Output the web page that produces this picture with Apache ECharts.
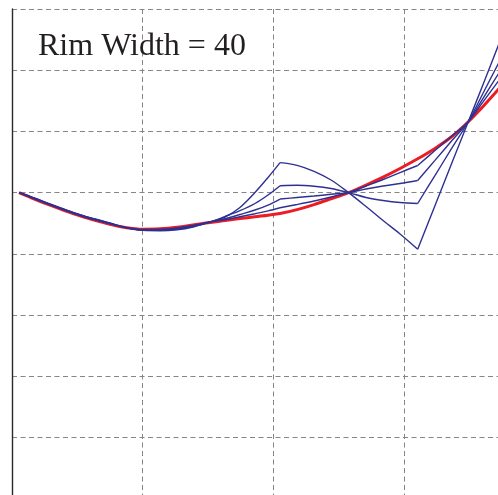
<!DOCTYPE html>
<html>
<head>
<meta charset="utf-8">
<script src="https://cdn.jsdelivr.net/npm/echarts@6/dist/echarts.min.js"></script>
<style>
  html, body { margin: 0; padding: 0; background: #fff; }
  #chart { width: 498px; height: 495px; }
</style>
</head>
<body>
<div id="chart"></div>
<script>
// Sample positions along the profile (shared by every curve)
const xPos = [0.054, 0.176, 0.291, 0.406, 0.520, 0.635, 0.750, 0.865, 1.002, 1.132, 1.262,
  1.385, 1.515, 1.630, 1.744, 1.859, 1.959, 2.051, 2.181, 2.311, 2.441, 2.575, 2.709,
  2.839, 2.969, 3.104, 3.236, 3.366, 3.491, 3.604, 3.734];

// Reference profile (smooth)
const redCurve = [5.000, 4.891, 4.794, 4.704, 4.621, 4.549, 4.484, 4.431, 4.402, 4.408, 4.433,
  4.471, 4.513, 4.544, 4.575, 4.606, 4.631, 4.658, 4.722, 4.804, 4.899, 5.000, 5.124,
  5.253, 5.394, 5.552, 5.722, 5.917, 6.158, 6.407, 6.717];

// Perturbed profiles
const blueCurve1 = [5.000, 4.910, 4.814, 4.724, 4.641, 4.569, 4.503, 4.431, 4.382, 4.376, 4.392,
  4.438, 4.520, 4.601, 4.757, 5.002, 5.247, 5.489, 5.446, 5.348, 5.206, 5.000, 4.773,
  4.544, 4.324, 4.074, 4.786, 5.487, 6.158, 6.766, 7.477];
const blueCurve2 = [5.000, 4.905, 4.809, 4.719, 4.636, 4.564, 4.498, 4.431, 4.387, 4.384, 4.402,
  4.446, 4.520, 4.610, 4.704, 4.822, 4.961, 5.113, 5.119, 5.103, 5.067, 5.000, 4.920,
  4.871, 4.838, 4.822, 5.279, 5.729, 6.158, 6.624, 7.163];
const blueCurve3 = [5.000, 4.900, 4.804, 4.714, 4.631, 4.559, 4.493, 4.431, 4.392, 4.392, 4.414,
  4.454, 4.520, 4.572, 4.642, 4.716, 4.797, 4.895, 4.920, 4.944, 4.972, 5.000, 5.059,
  5.108, 5.149, 5.198, 5.526, 5.850, 6.158, 6.541, 6.982];
const blueCurve4 = [5.000, 4.895, 4.799, 4.709, 4.626, 4.554, 4.489, 4.431, 4.397, 4.400, 4.423,
  4.462, 4.520, 4.556, 4.605, 4.655, 4.701, 4.753, 4.806, 4.863, 4.928, 5.000, 5.108,
  5.214, 5.328, 5.443, 5.688, 5.928, 6.158, 6.482, 6.858];

// Indices where the perturbed curves have corners
const cornerIdx = [0, 17, 25, 30];

const titleText = 'Rim Width = 40';

const RED = '#ed1c24';
const BLUE = '#2e3192';

function pairs(ys, a, b) {
  const out = [];
  for (let i = a; i <= b; i++) out.push([xPos[i], ys[i]]);
  return out;
}

const series = [{
  type: 'line',
  data: pairs(redCurve, 0, xPos.length - 1),
  smooth: 0.35,
  showSymbol: false,
  lineStyle: { color: RED, width: 3 },
  z: 2
}];

[blueCurve1, blueCurve2, blueCurve3, blueCurve4].forEach(function (ys) {
  for (let s = 0; s < cornerIdx.length - 1; s++) {
    series.push({
      type: 'line',
      data: pairs(ys, cornerIdx[s], cornerIdx[s + 1]),
      smooth: 0.35,
      showSymbol: false,
      lineStyle: { color: BLUE, width: 1.4 },
      z: 3
    });
  }
});

const gridLine = { show: true, lineStyle: { color: '#858585', width: 1, type: [5, 3.5] } };

const chart = echarts.init(document.getElementById('chart'), null, { renderer: 'canvas' });
chart.setOption({
  animation: false,
  // the plot area continues past the right and bottom edges of the view
  grid: { left: 12, top: 9, width: 522.8, height: 489.6, outerBoundsMode: 'none', containLabel: false },
  xAxis: {
    type: 'value', min: 0, max: 4, interval: 1, position: 'top',
    axisLine: { show: true, lineStyle: { color: '#2a2a2a', width: 1.4 } },
    axisTick: { show: false }, axisLabel: { show: false },
    splitLine: gridLine
  },
  yAxis: {
    type: 'value', min: 0, max: 8, interval: 1,
    axisLine: { show: true, lineStyle: { color: '#2a2a2a', width: 1.4 } },
    axisTick: { show: false }, axisLabel: { show: false },
    splitLine: gridLine
  },
  graphic: [{
    type: 'text',
    left: 38, top: 31,
    style: {
      text: titleText,
      font: '32px "Liberation Serif", "Times New Roman", serif',
      fill: '#231f20'
    },
    z: 10
  }],
  series: series
});
</script>
</body>
</html>
